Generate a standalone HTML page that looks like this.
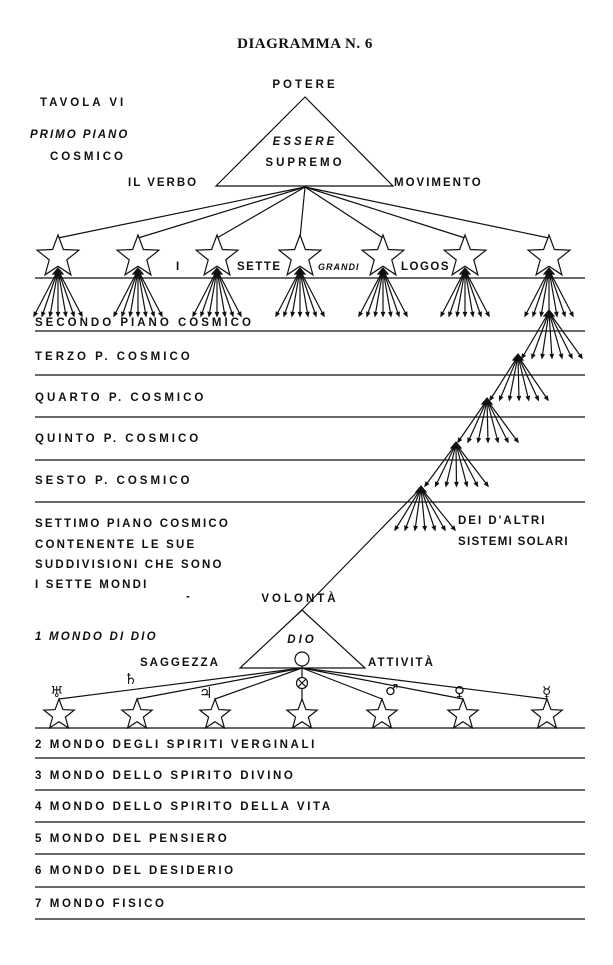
<!DOCTYPE html>
<html><head><meta charset="utf-8"><style>
html,body{margin:0;padding:0;background:#fff;}
svg{display:block}
text{font-family:"Liberation Sans",sans-serif;font-weight:bold;font-size:11.5px;letter-spacing:3px;fill:#111}
.t{font-family:"Liberation Serif",serif;font-size:15px;letter-spacing:0.5px}
.i{font-style:italic}
.p{font-family:"DejaVu Sans",sans-serif;font-size:15px;letter-spacing:0;font-weight:normal}
</style></head><body>
<svg id="s" width="613" height="965" viewBox="0 0 613 965" xmlns="http://www.w3.org/2000/svg" stroke="#111" fill="none" stroke-width="1.2">
<text class="t" x="305" y="48" text-anchor="middle" stroke="none">DIAGRAMMA N. 6</text>
<text x="305" y="88" text-anchor="middle" stroke="none">POTERE</text>
<text x="40" y="106" stroke="none">TAVOLA VI</text>
<text class="i" x="30" y="138" stroke="none" style="letter-spacing:2px">PRIMO PIANO</text>
<text x="50" y="160" stroke="none">COSMICO</text>
<polygon points="305,97 216,186 393,186"/>
<text class="i" x="305" y="145" text-anchor="middle" stroke="none">ESSERE</text>
<text x="305" y="166" text-anchor="middle" stroke="none">SUPREMO</text>
<text x="128" y="186" stroke="none" style="letter-spacing:2px">IL VERBO</text>
<text x="394" y="186" stroke="none" style="letter-spacing:2px">MOVIMENTO</text>
<text x="176" y="270" stroke="none">I</text>
<text x="237" y="270" stroke="none" style="letter-spacing:1.5px">SETTE</text>
<text class="i" x="318" y="270" stroke="none" style="font-size:9px;letter-spacing:1px">GRANDI</text>
<text x="401" y="270" stroke="none" style="letter-spacing:1.5px">LOGOS</text>
<text x="35" y="326" stroke="none">SECONDO PIANO COSMICO</text>
<text x="35" y="360" stroke="none">TERZO P. COSMICO</text>
<text x="35" y="401" stroke="none">QUARTO P. COSMICO</text>
<text x="35" y="442" stroke="none">QUINTO P. COSMICO</text>
<text x="35" y="484" stroke="none">SESTO P. COSMICO</text>
<text x="35" y="527" stroke="none" style="letter-spacing:2.2px">SETTIMO PIANO COSMICO</text>
<text x="35" y="548" stroke="none" style="letter-spacing:2.2px">CONTENENTE LE SUE</text>
<text x="35" y="568" stroke="none" style="letter-spacing:2.2px">SUDDIVISIONI CHE SONO</text>
<text x="35" y="588" stroke="none" style="letter-spacing:2.2px">I SETTE MONDI</text>
<text x="186" y="600" stroke="none">-</text>
<text x="458" y="524" stroke="none" style="letter-spacing:2px">DEI D'ALTRI</text>
<text x="458" y="545" stroke="none" style="letter-spacing:1.3px">SISTEMI SOLARI</text>
<text x="300" y="602" text-anchor="middle" stroke="none">VOLONTÀ</text>
<text class="i" x="35" y="640" stroke="none" style="letter-spacing:2.2px">1 MONDO DI DIO</text>
<polygon points="302,610 240,668 365,668"/>
<text class="i" x="302" y="643" text-anchor="middle" stroke="none">DIO</text>
<circle cx="302" cy="659" r="7"/>
<text x="140" y="666" stroke="none" style="letter-spacing:2px">SAGGEZZA</text>
<text x="368" y="666" stroke="none" style="letter-spacing:2px">ATTIVITÀ</text>
<circle cx="302" cy="683" r="5.5"/>
<line x1="298" y1="679" x2="306" y2="687"/><line x1="306" y1="679" x2="298" y2="687"/>
<line x1="302" y1="666" x2="302" y2="677"/><line x1="302" y1="689" x2="302" y2="701"/>
<g stroke="none">
<text class="p" x="50" y="697">♅</text><text class="p" x="124" y="684">♄</text><text class="p" x="199" y="698">♃</text>
<text class="p" x="385" y="695">♂</text><text class="p" x="454" y="697">♀</text><text class="p" x="542" y="697">☿</text></g>
<text x="35" y="748" stroke="none" style="letter-spacing:2.6px">2 MONDO DEGLI SPIRITI VERGINALI</text>
<text x="35" y="779" stroke="none" style="letter-spacing:2.6px">3 MONDO DELLO SPIRITO DIVINO</text>
<text x="35" y="810" stroke="none" style="letter-spacing:2.6px">4 MONDO DELLO SPIRITO DELLA VITA</text>
<text x="35" y="842" stroke="none" style="letter-spacing:2.6px">5 MONDO DEL PENSIERO</text>
<text x="35" y="874" stroke="none" style="letter-spacing:2.6px">6 MONDO DEL DESIDERIO</text>
<text x="35" y="907" stroke="none" style="letter-spacing:2.6px">7 MONDO FISICO</text>
<g id="g"></g>
</svg>
<script>
var g=document.getElementById('g'),NS='http://www.w3.org/2000/svg';
function el(n,a){var e=document.createElementNS(NS,n);for(var k in a)e.setAttribute(k,a[k]);g.appendChild(e);return e;}
function L(a,b,c,d){el('line',{x1:a,y1:b,x2:c,y2:d});}
function star(cx,cy,R){var r=R*0.42,p=[];for(var i=0;i<10;i++){var ang=-Math.PI/2+i*Math.PI/5,rr=i%2?r:R;p.push((cx+rr*Math.cos(ang)).toFixed(1)+','+(cy+rr*Math.sin(ang)).toFixed(1));}el('polygon',{points:p.join(' '),fill:'#fff'});}
function fan(ax,ay,x0,x1,y){for(var i=0;i<7;i++){var x=x0+(x1-x0)*i/6;L(ax,ay,x,y);var dx=x-ax,dy=y-ay,l=Math.hypot(dx,dy);dx/=l;dy/=l;
el('polygon',{points:x+','+y+' '+(x-dx*3.5-dy*1.5)+','+(y-dy*3.5+dx*1.5)+' '+(x-dx*3.5+dy*1.5)+','+(y-dy*3.5-dx*1.5),fill:'#111'});}
el('polygon',{points:(ax-5)+','+(ay+4)+' '+ax+','+(ay-2)+' '+(ax+5)+','+(ay+4),fill:'#111'});}
[278,331,375,417,460,502].forEach(function(y){L(35,y,585,y);});
[728,758,790,822,854,887,919].forEach(function(y){L(35,y,585,y);});
var xs=[58,138,217,300,383,465,549];
xs.forEach(function(x){L(305,187,x,238);});
xs.forEach(function(x){fan(x,270,x-24,x+24,316);star(x,257,22);});
fan(549,312,522,582,358);
fan(518,356,490,548,400);
fan(487,400,458,518,442);
fan(456,444,425,488,486);
fan(421,488,395,455,530);
L(421,488,298,614);
var ys=[59,137,215,302,382,463,547];
ys.forEach(function(x){if(x!=302)L(302,668,x,699);});
ys.forEach(function(x){star(x,715,16);});
</script>
</body></html>
